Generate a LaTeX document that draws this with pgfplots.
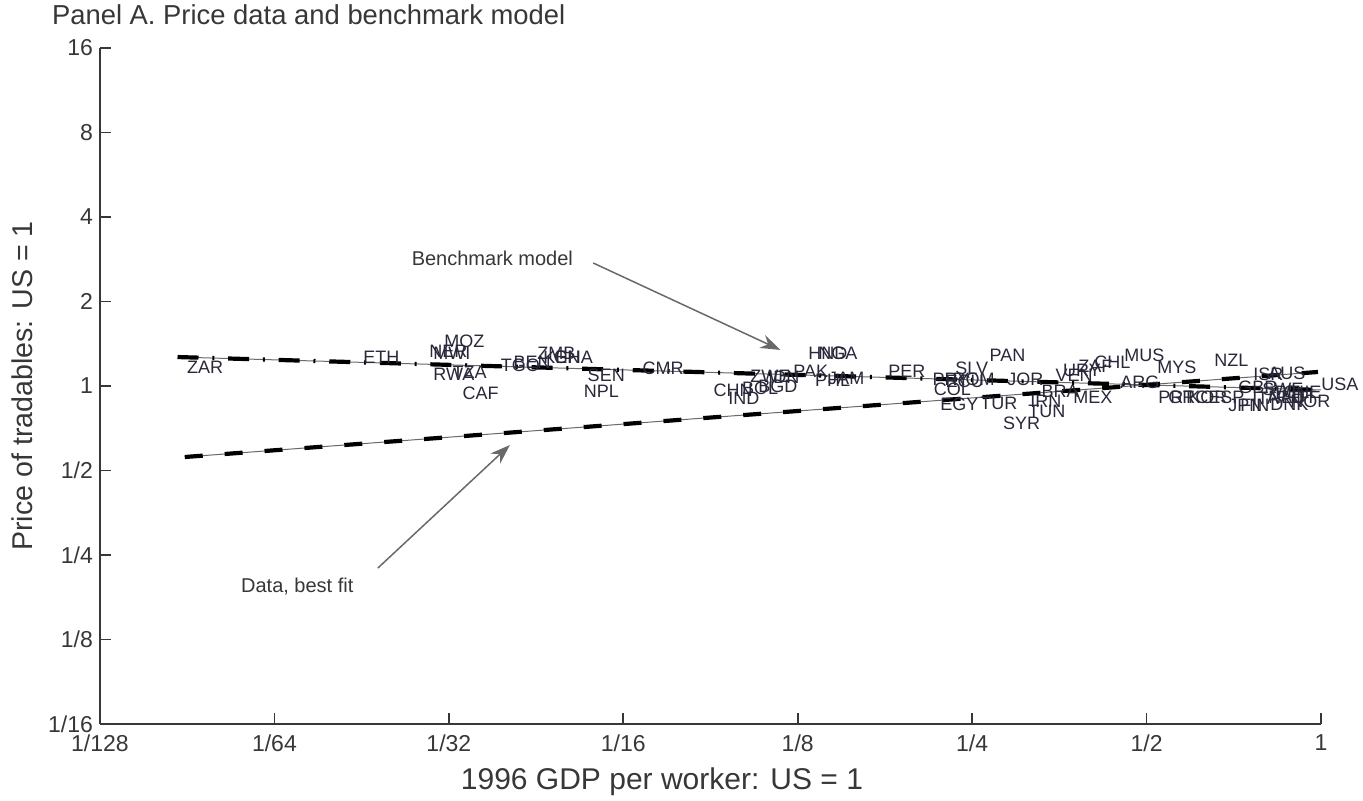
\documentclass[border=0pt]{standalone}
\usepackage{fontspec}
\setmainfont{Liberation Sans}
\usepackage{pgfplots}
\usepackage{pgfplotstable}
\pgfplotsset{compat=1.18}
\usetikzlibrary{arrows.meta}

% Country codes at (GDP per worker, price of tradables), both relative to the US
\pgfplotstableread{
x        y      label
0.01103  1.169  ZAR
0.02222  1.268  ETH
0.02888  1.333  NER
0.02935  1.311  MWI
0.03066  1.447  MOZ
0.02935  1.103  RWA
0.03166  1.122  TZA
0.03295  0.944  CAF
0.03836  1.188  TGO
0.04036  1.218  BEN
0.04437  1.311  ZMB
0.04544  1.268  KEN
0.04737  1.268  GHA
0.05418  1.094  SEN
0.05333  0.960  NPL
0.06739  1.159  CMR
0.08931  0.968  CHN
0.09473  0.906  IND
0.1001   0.984  BOL
0.1067   1.000  BGD
0.1034   1.085  ZWE
0.1111   1.077  IDN
0.1227   1.131  PAK
0.1302   1.311  HND
0.1355   1.311  NGA
0.1337   1.050  PHL
0.1409   1.068  JAM
0.1789   1.131  PER
0.2133   1.059  PRY
0.2335   1.159  SLV
0.2309   1.059  ROM
0.2143   0.976  COL
0.2246   1.042  ECU
0.2200   0.863  EGY
0.2676   1.290  PAN
0.2578   0.870  TUR
0.2822   0.738  SYR
0.2871   1.059  JOR
0.3120   0.815  TUN
0.3146   0.884  IRN
0.3291   0.960  BRA
0.3478   1.094  VEN
0.3733   0.914  MEX
0.3585   1.140  URY
0.3807   1.178  ZAF
0.4058   1.218  CHL
0.4572   1.290  MUS
0.4499   1.033  ARG
0.5212   1.169  MYS
0.6538   1.238  NZL
0.7630   1.103  ISR
0.8099   1.112  AUS
1.000    1.010  USA
0.5233   0.914  PRT
0.5443   0.914  GRC
0.5893   0.914  KOR
0.6384   0.914  ESP
0.7190   0.992  GBR
0.6912   0.856  JPN
0.7249   0.856  FIN
0.7601   0.906  ITA
0.7911   0.976  SWE
0.8099   0.914  NLD
0.8328   0.952  BEL
0.8163   0.863  DNK
0.8496   0.914  AUT
0.8840   0.884  NOR
0.8597   0.952  CHE
}\countries

% Fitted lines (straight on log-log axes): end points
\pgfplotstableread{
x        y
0.01063  1.268
1.000    0.968
}\benchmark
\pgfplotstableread{
x        y
0.01094  0.5585
0.988    1.122
}\bestfit

\definecolor{axisgray}{RGB}{55,55,55}
\definecolor{labelgray}{RGB}{40,40,58}
\definecolor{arrowgray}{RGB}{105,105,105}

\begin{document}
\begin{tikzpicture}
\useasboundingbox (-50pt,-38.5pt) rectangle (631.5pt,362pt);
\begin{axis}[
  at={(0,0)}, anchor=south west,
  scale only axis, width=610.5pt, height=338pt,
  xmode=log, ymode=log, log basis x=2, log basis y=2,
  xmin=0.0078125, xmax=1, ymin=0.0625, ymax=16,
  axis x line=bottom, axis y line=left,
  axis line style={-, line width=0.8pt, axisgray},
  tick align=inside, major tick length=5.5pt,
  tick style={line width=0.8pt, axisgray},
  minor xtick={}, minor ytick={},
  xtick={0.0078125,0.015625,0.03125,0.0625,0.125,0.25,0.5,1},
  xticklabels={1/128,1/64,1/32,1/16,1/8,1/4,1/2,1},
  ytick={0.0625,0.125,0.25,0.5,1,2,4,8,16},
  yticklabels={1/16,1/8,1/4,1/2,1,2,4,8,16},
  /pgf/number format/assume math mode=true,
  ticklabel style={font=\fontsize{11.5}{13}\selectfont, text=axisgray},
  xticklabel style={yshift=-2pt},
  xlabel={1996 GDP per worker: US = 1},
  ylabel={Price of tradables: US = 1},
  xlabel style={font=\fontsize{15}{17}\selectfont, text=axisgray,
    at={(axis description cs:0.4603,-0.0976)}, anchor=base},
  ylabel style={font=\fontsize{14.3}{16}\selectfont, text=axisgray,
    at={(axis description cs:-0.0549,0.5)}, anchor=base, rotate=0},
  clip=false,
]
% benchmark model: thin line under a dash-dot pattern
\addplot[arrowgray, line width=0.5pt] table {\benchmark};
\addplot[black, line width=2.1pt, dash pattern=on 10.5pt off 6.9pt on 1pt off 6.9pt] table {\benchmark};
% data, best fit
\addplot[arrowgray, line width=0.5pt] table {\bestfit};
\addplot[black, line width=2.1pt, dash pattern=on 9pt off 11pt] table {\bestfit};

% country codes
\addplot[draw=none, mark=none, nodes near coords, point meta=explicit symbolic,
  nodes near coords style={anchor=west, inner sep=0pt, text=labelgray,
    font=\fontsize{9}{10}\selectfont}]
  table[x=x, y=y, meta=label] {\countries};

% annotations
\node[font=\fontsize{10}{12}\selectfont, text=axisgray] at (axis cs:0.03715,2.858) {Benchmark model};
\draw[arrowgray, line width=0.75pt, -{Stealth[length=10pt, width=7pt]}]
  (axis cs:0.05545,2.743) -- (axis cs:0.1167,1.344);
\node[font=\fontsize{10}{12}\selectfont, text=axisgray] at (axis cs:0.01711,0.1923) {Data, best fit};
\draw[arrowgray, line width=0.75pt, -{Stealth[length=10pt, width=7pt]}]
  (axis cs:0.02356,0.2245) -- (axis cs:0.03983,0.6163);

% panel title
\node[anchor=base west, font=\fontsize{13.7}{16}\selectfont, text=axisgray]
  at ([xshift=-27.5pt, yshift=11.5pt]rel axis cs:0,1) {Panel A. Price data and benchmark model};
\end{axis}
\end{tikzpicture}
\end{document}
